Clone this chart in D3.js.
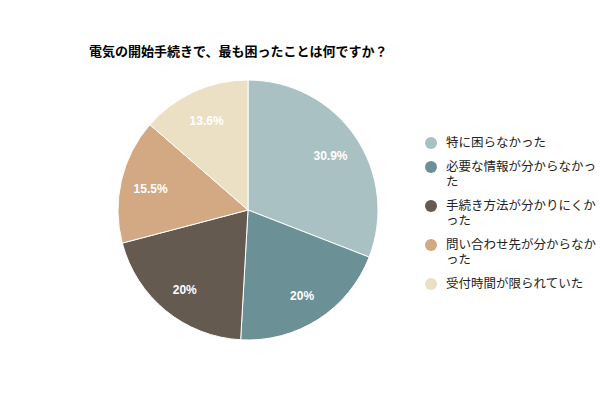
<!DOCTYPE html>
<html>
<head>
<meta charset="utf-8">
<script src="https://cdn.jsdelivr.net/npm/d3@7"></script>
<style>
  body { margin: 0; background: #fff; }
  svg { font-family: Arial, "Noto Sans CJK JP", sans-serif; }
</style>
</head>
<body>
<svg id="chart"></svg>
<script>
const title = "電気の開始手続きで、最も困ったことは何ですか？";
const labels = ["特に困らなかった", "必要な情報が分からなかった", "手続き方法が分かりにくかった", "問い合わせ先が分からなかった", "受付時間が限られていた"];
const values = [30.9, 20, 20, 15.5, 13.6];
const colors = ["#a9c1c2", "#6b9096", "#655a50", "#d2a982", "#ebdfc4"];

const svg = d3.select("#chart")
    .attr("width", 600)
    .attr("height", 400);

svg.append("text")
    .text(title)
    .attr("x", 89)
    .attr("y", 56)
    .attr("font-size", 13)
    .attr("font-weight", "bold")
    .attr("fill", "#000");

const cx = 248, cy = 210, r = 130;

const pie = d3.pie().sort(null).value(d => d);
const arc = d3.arc().innerRadius(0).outerRadius(r);
const labelArc = d3.arc().innerRadius(100).outerRadius(100);

const color = d3.scaleOrdinal().domain(labels).range(colors);

const g = svg.append("g")
    .attr("transform", `translate(${cx}, ${cy})`);

const arcs = pie(values);

g.selectAll("path")
    .data(arcs)
    .enter().append("path")
    .attr("d", arc)
    .attr("fill", (d, i) => color(labels[i]))
    .attr("stroke", "#fff")
    .attr("stroke-width", 1);

g.selectAll("text")
    .data(arcs)
    .enter().append("text")
    .text(d => d.data + "%")
    .attr("transform", d => {
        const c = labelArc.centroid(d);
        return `translate(${c[0]}, ${c[1] + 2})`;
    })
    .attr("text-anchor", "middle")
    .attr("dy", "0.35em")
    .attr("font-size", 12)
    .attr("font-weight", "bold")
    .attr("fill", "#fff");

// legend
const legend = svg.append("g").attr("transform", "translate(431, 0)");
const maxW = 154;
let y = 143;
labels.forEach((lab, i) => {
    const item = legend.append("g");
    item.append("circle")
        .attr("cx", 0)
        .attr("cy", y)
        .attr("r", 6)
        .attr("fill", colors[i]);
    const t = item.append("text")
        .attr("x", 15)
        .attr("font-size", 12.5)
        .attr("fill", "#222");
    // wrap by characters
    let lines = [], cur = "";
    const probe = svg.append("text").attr("font-size", 12.5);
    for (const ch of lab) {
        probe.text(cur + ch);
        if (probe.node().getComputedTextLength() > maxW && cur) {
            lines.push(cur);
            cur = ch;
        } else {
            cur += ch;
        }
    }
    lines.push(cur);
    probe.remove();
    lines.forEach((ln, j) => {
        t.append("tspan")
            .attr("x", 15)
            .attr("y", y + j * 15)
            .attr("dy", "0.35em")
            .text(ln);
    });
    y += (lines.length - 1) * 15 + 24;
});
</script>
</body>
</html>
